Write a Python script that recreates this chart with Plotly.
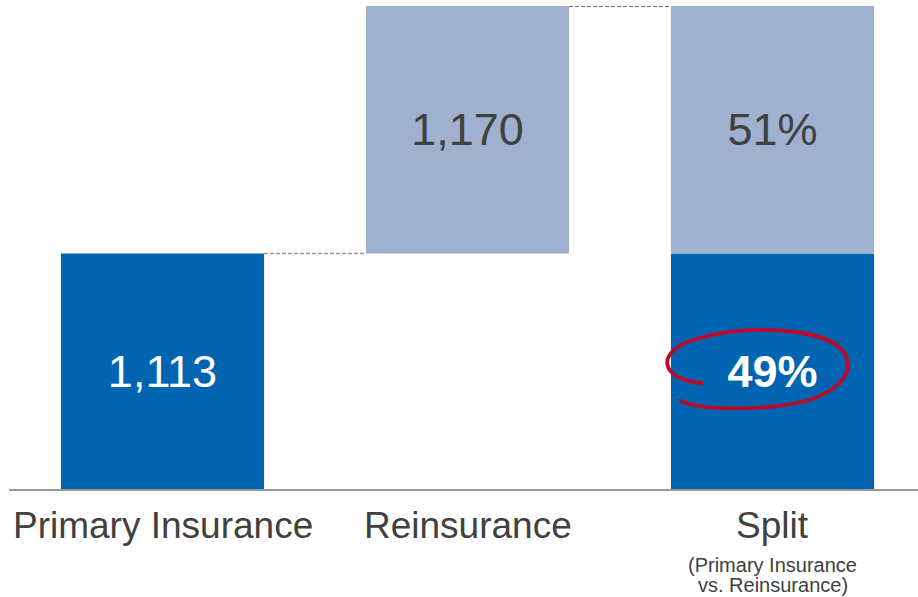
import plotly.graph_objects as go

categories = ["Primary Insurance", "Reinsurance", "Split"]
primary_value = 1113
reinsurance_value = 1170
value_labels = ["1,113", "1,170"]
split_labels = ["49%", "51%"]
sub_label = ["(Primary Insurance", "vs. Reinsurance)"]

DARK = "#0064B1"
LIGHT = "#9FB1CF"
TXT = "#404040"
FONT = "Liberation Sans, Arial, sans-serif"
total = primary_value + reinsurance_value
W = 0.666

fig = go.Figure()
fig.add_trace(go.Bar(x=[0, 2], y=[primary_value, primary_value], base=[0, 0],
                     marker=dict(color=DARK, line=dict(width=0)), width=W,
                     text=[value_labels[0], "<b>" + split_labels[0] + "</b>"],
                     textposition="inside", insidetextanchor="middle",
                     textfont=dict(color="white", size=45, family=FONT),
                     constraintext="none", hoverinfo="skip"))
fig.add_trace(go.Bar(x=[1, 2], y=[reinsurance_value, reinsurance_value],
                     base=[primary_value, primary_value],
                     marker=dict(color=LIGHT, line=dict(width=0)), width=W,
                     text=[value_labels[1], split_labels[1]],
                     textposition="inside", insidetextanchor="middle",
                     textfont=dict(color=TXT, size=45, family=FONT),
                     constraintext="none", hoverinfo="skip"))

shapes = [
    dict(type="line", xref="x", yref="y", x0=0 + W / 2, x1=1 - W / 2,
         y0=primary_value, y1=primary_value,
         line=dict(color="#999999", width=1.5, dash="4px,2px")),
    dict(type="line", xref="x", yref="y", x0=1 + W / 2, x1=2 - W / 2,
         y0=total, y1=total,
         line=dict(color="#444444", width=1.5, dash="4px,2px")),
]

L, T, B = 9, 6, 489
def px(xp, yp):
    xd = (xp - 162.5) / 305.0
    yd = (B - yp) / (B - T) * total
    return f"{xd:.4f},{yd:.2f}"

path = ("M " + px(703, 383) +
        " C " + px(660, 381) + " " + px(652, 350) + " " + px(700, 338) +
        " C " + px(745, 325) + " " + px(822, 327) + " " + px(842, 350) +
        " C " + px(862, 375) + " " + px(830, 403) + " " + px(768, 407) +
        " C " + px(728, 410) + " " + px(690, 408) + " " + px(680, 400))
shapes.append(dict(type="path", xref="x", yref="y", path=path,
                   line=dict(color="#BE0A2A", width=3.8)))

annotations = []
for i, c in enumerate(categories):
    annotations.append(dict(x=i, y=0, xref="x", yref="paper", text=c,
                            showarrow=False, yanchor="top", yshift=-14,
                            font=dict(size=37, color=TXT, family=FONT)))
for j, s in enumerate(sub_label):
    annotations.append(dict(x=2, y=0, xref="x", yref="paper", text=s,
                            showarrow=False, yanchor="top", yshift=-63 - 20 * j,
                            font=dict(size=20, color=TXT, family=FONT)))

fig.update_layout(
    width=918, height=597, barmode="overlay", showlegend=False,
    paper_bgcolor="white", plot_bgcolor="white",
    margin=dict(l=L, r=0, t=T, b=597 - B, pad=0),
    xaxis=dict(range=[-(162.5 - L) / 305.0, 2 + (918 - 772.5) / 305.0],
               showticklabels=False, showgrid=False, zeroline=False,
               showline=True, linecolor="#999999", linewidth=2, fixedrange=True),
    yaxis=dict(range=[0, total], visible=False, fixedrange=True),
    shapes=shapes, annotations=annotations, font=dict(family=FONT),
)
fig.write_html("out.html", config={"displayModeBar": False},
               post_script="document.body.style.margin='0';document.body.style.overflow='hidden';")
